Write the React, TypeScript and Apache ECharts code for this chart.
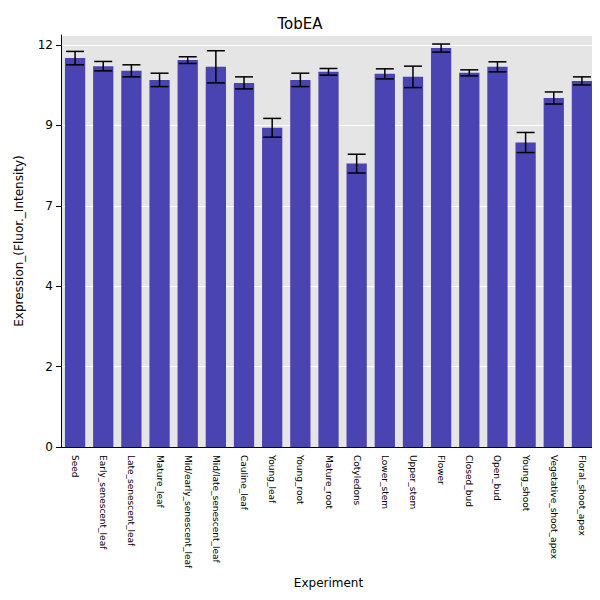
import React, { useEffect, useRef } from 'react';
import * as echarts from 'echarts';

const categories = ['Seed', 'Early_senescent_leaf', 'Late_senescent_leaf', 'Mature_leaf', 'Mid/early_senescent_leaf', 'Mid/late_senescent_leaf', 'Cauline_leaf', 'Young_leaf', 'Young_root', 'Mature_root', 'Cotyledons', 'Lower_stem', 'Upper_stem', 'Flower', 'Closed_bud', 'Open_bud', 'Young_shoot', 'Vegetative_shoot_apex', 'Floral_shoot_apex'];
const values = [11.61, 11.37, 11.23, 10.96, 11.55, 11.35, 10.87, 9.53, 10.96, 11.2, 8.46, 11.14, 11.05, 11.91, 11.17, 11.35, 9.09, 10.42, 10.93];
const errors = [0.2, 0.14, 0.18, 0.2, 0.1, 0.48, 0.18, 0.28, 0.2, 0.1, 0.28, 0.15, 0.32, 0.12, 0.09, 0.15, 0.3, 0.18, 0.12];

const App: React.FC = () => {
  const ref = useRef<HTMLDivElement>(null);
  useEffect(() => {
    if (!ref.current) return;
    const chart = echarts.init(ref.current, null, { renderer: 'svg' });
    chart.setOption({
      animation: false,
      title: { text: 'TobEA', left: 'center', top: 10, textStyle: { fontSize: 15, fontWeight: 'normal', color: '#000', fontFamily: 'DejaVu Sans' } },
      grid: { left: 60, right: 3, top: 34, bottom: 152, show: true, backgroundColor: '#e5e5e5', borderWidth: 0 },
      xAxis: {
        type: 'category', data: categories, name: 'Experiment', nameLocation: 'middle', nameGap: 130,
        nameTextStyle: { fontSize: 12, color: '#000', fontFamily: 'DejaVu Sans' },
        axisLine: { lineStyle: { color: '#000' } }, axisTick: { show: false },
        axisLabel: { rotate: -90, interval: 0, fontSize: 9, color: '#000', fontFamily: 'DejaVu Sans', margin: 8 },
      },
      yAxis: {
        type: 'value', min: 0, max: 12.3, interval: 2.4,
        name: 'Expression_(Fluor._Intensity)', nameLocation: 'middle', nameGap: 36,
        nameTextStyle: { fontSize: 12, color: '#000', fontFamily: 'DejaVu Sans' },
        axisLine: { show: true, lineStyle: { color: '#000' } }, axisTick: { show: true },
        axisLabel: { color: '#000', fontSize: 12, fontFamily: 'DejaVu Sans', formatter: (v: number) => String(Math.floor(v + 1e-6)) },
        splitLine: { lineStyle: { color: '#fff' } },
      },
      series: [
        { type: 'bar', data: values, barWidth: '72%', itemStyle: { color: '#4a43b2' } },
        {
          type: 'custom', z: 10,
          data: values.map((v, i) => [i, v - errors[i], v + errors[i]]),
          renderItem: (params: any, api: any) => {
            const lo = api.coord([api.value(0), api.value(1)]);
            const hi = api.coord([api.value(0), api.value(2)]);
            const w = 9;
            const st = { stroke: '#000', lineWidth: 1.5 };
            return {
              type: 'group', children: [
                { type: 'line', shape: { x1: lo[0], y1: lo[1], x2: hi[0], y2: hi[1] }, style: st },
                { type: 'line', shape: { x1: lo[0] - w, y1: lo[1], x2: lo[0] + w, y2: lo[1] }, style: st },
                { type: 'line', shape: { x1: hi[0] - w, y1: hi[1], x2: hi[0] + w, y2: hi[1] }, style: st },
              ],
            };
          },
        },
      ],
    });
    return () => chart.dispose();
  }, []);
  return <div ref={ref} style={{ width: 598, height: 598, border: '1px solid #000', margin: -8 }} />;
};

export default App;
